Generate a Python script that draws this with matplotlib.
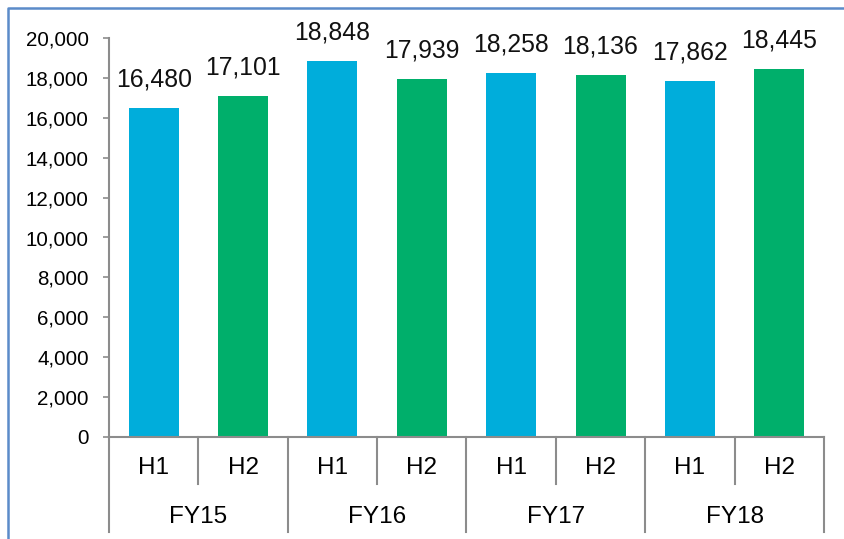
import numpy as np
import matplotlib.pyplot as plt
from matplotlib.lines import Line2D

plt.rcParams['font.family'] = ['Liberation Sans', 'DejaVu Sans']

# datos
halves = ["H1", "H2", "H1", "H2", "H1", "H2", "H1", "H2"]
years = ["FY15", "FY16", "FY17", "FY18"]
values = [16480, 17101, 18848, 17939, 18258, 18136, 17862, 18445]
colors = ["#00ADDB", "#00AF6B"] * 4
gris = "#8C8C8C"

fig = plt.figure(figsize=(8.45, 5.39), dpi=100)
ax = fig.add_axes([109 / 845, 1 - 437 / 539, (824 - 109) / 845, 399 / 539])

x = np.arange(len(values))
ax.bar(x, values, width=0.56, color=colors, zorder=2)

# etiquetas de datos
for xi, v in zip(x, values):
    ax.annotate(f"{v:,}", (xi, v), xytext=(0, 15.5), textcoords="offset points",
                ha="center", va="baseline", fontsize=17.8, color="#111111")

ax.set_xlim(-0.5, 7.5)
ax.set_ylim(0, 20000)
ax.set_yticks(range(0, 20001, 2000))
ax.set_yticklabels([f"{t:,}" for t in range(0, 20001, 2000)], fontsize=14.8)
ax.tick_params(axis="y", length=4.5, width=1.2, color=gris, pad=10)
ax.set_xticks([])

for s in ["top", "right"]:
    ax.spines[s].set_visible(False)
for s in ["left", "bottom"]:
    ax.spines[s].set_color(gris)
    ax.spines[s].set_linewidth(1.5)

# eje de categorias en dos niveles
tr = ax.get_xaxis_transform()
h1 = 47 / 399
h2 = 95 / 399
for b in np.arange(-0.5, 8, 1.0):
    largo = h2 if (b + 0.5) % 2 == 0 else h1
    ax.add_line(Line2D([b, b], [0, -largo], transform=tr, color=gris,
                       lw=1.5, clip_on=False))
for xi, h in zip(x, halves):
    ax.text(xi, -31 / 399, h, transform=tr, ha="center", va="center", fontsize=17.5)
for i, y in enumerate(years):
    ax.text(2 * i + 0.5, -80 / 399, y, transform=tr, ha="center", va="center",
            fontsize=17.5)

# borde del grafico
fig.add_artist(Line2D([8 / 845, 8 / 845, 1.0], [0.0, 1 - 8 / 539, 1 - 8 / 539],
                      transform=fig.transFigure, color="#5B8BC9", lw=1.8))

fig.savefig("out.png", dpi=100)
